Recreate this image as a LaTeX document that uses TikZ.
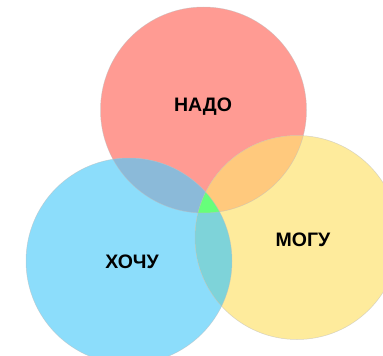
\documentclass[tikz,border=0pt]{standalone}
\usepackage{fontspec}
\setmainfont{Liberation Sans}
\usetikzlibrary{positioning}
\definecolor{nadoRed}{HTML}{FF9B93}
\definecolor{hochuBlue}{HTML}{8CDDFB}
\definecolor{moguYellow}{HTML}{FEEB9C}
\definecolor{nhMix}{HTML}{8BBAD9}
\definecolor{nmMix}{HTML}{FFC97D}
\definecolor{hmMix}{HTML}{7ED3D9}
\definecolor{allMix}{HTML}{66FF7A}
\tikzset{x=1pt, y=-1pt, % picture coordinates in pixels, y downwards
rim/.style={ % thin outline of each circle
draw=black!25, draw opacity=0.6, line width=0.5pt},
word/.style={ % labels inside the circles
font=\bfseries\fontsize{19.5}{19.5}\selectfont, inner sep=0pt}}

\begin{document}
\begin{tikzpicture}

    \useasboundingbox[fill=white] (0,0) rectangle (383,356);

    \coordinate (nado) at (203.5,110);
    \coordinate (hochu) at (129,261);
    \coordinate (mogu) at (297,237.5);

    % the three sets
    \fill[nadoRed] (nado) circle[radius=103pt];
    \fill[hochuBlue] (hochu) circle[radius=103pt];
    \fill[moguYellow] (mogu) circle[radius=102pt];

    % pairwise overlaps
    \begin{scope}
        \clip (nado) circle[radius=103pt];
        \fill[nhMix] (hochu) circle[radius=103pt];
        \fill[nmMix] (mogu) circle[radius=102pt];
    \end{scope}
    \begin{scope}
        \clip (hochu) circle[radius=103pt];
        \fill[hmMix] (mogu) circle[radius=102pt];
        \clip (mogu) circle[radius=102pt];
        \fill[allMix] (nado) circle[radius=103pt];
    \end{scope}

    \path[rim] (nado) circle[radius=103pt];
    \path[rim] (hochu) circle[radius=103pt];
    \path[rim] (mogu) circle[radius=102pt];

    \node[word] (nadoText) at (203,107) {НАДО};
    \node[word] (hochuText) at (132,262) {ХОЧУ};
    \node[word] (moguText) at (303,240) {МОГУ};

\end{tikzpicture}
\end{document}
